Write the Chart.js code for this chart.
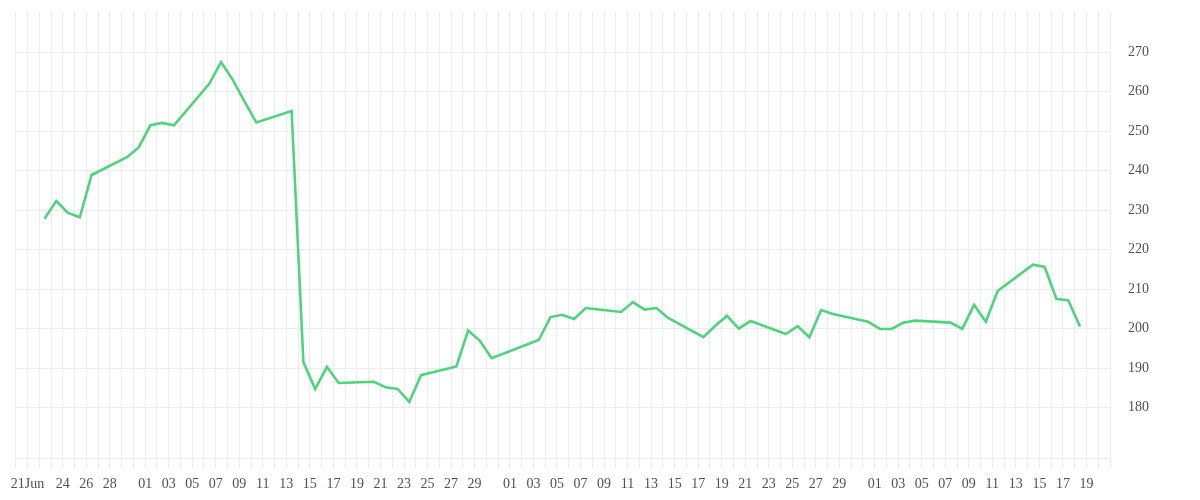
<!DOCTYPE html>
<html>
<head>
<meta charset="utf-8">
<script src="https://cdn.jsdelivr.net/npm/chart.js@4/dist/chart.umd.min.js"></script>
<style>
  html, body { margin: 0; padding: 0; background: #fff; }
  #wrap { width: 1200px; height: 500px; }
</style>
</head>
<body>
<div id="wrap"><canvas id="myChart" width="1200" height="500"></canvas></div>
<script>
// trading days (2020) and closing values
var dates = [
  '2020-06-22', '2020-06-23', '2020-06-24', '2020-06-25', '2020-06-26',
  '2020-06-29', '2020-06-30', '2020-07-01', '2020-07-02', '2020-07-03',
  '2020-07-06', '2020-07-07', '2020-07-08', '2020-07-09', '2020-07-10',
  '2020-07-13', '2020-07-14', '2020-07-15', '2020-07-16', '2020-07-17',
  '2020-07-20', '2020-07-21', '2020-07-22', '2020-07-23', '2020-07-24',
  '2020-07-27', '2020-07-28', '2020-07-29', '2020-07-30',
  '2020-08-03', '2020-08-04', '2020-08-05', '2020-08-06', '2020-08-07',
  '2020-08-10', '2020-08-11', '2020-08-12', '2020-08-13', '2020-08-14',
  '2020-08-17', '2020-08-18', '2020-08-19', '2020-08-20', '2020-08-21',
  '2020-08-24', '2020-08-25', '2020-08-26', '2020-08-27', '2020-08-28',
  '2020-08-31', '2020-09-01', '2020-09-02', '2020-09-03', '2020-09-04',
  '2020-09-07', '2020-09-08', '2020-09-09', '2020-09-10', '2020-09-11',
  '2020-09-14', '2020-09-15', '2020-09-16', '2020-09-17', '2020-09-18'
];
var prices = [
  227.8, 232.3, 229.3, 228.2, 238.9,
  243.4, 245.9, 251.5, 252.1, 251.5,
  262.0, 267.5, 263.0, 257.5, 252.2,
  255.1, 191.5, 184.7, 190.3, 186.2,
  186.5, 185.1, 184.7, 181.4, 188.2,
  190.4, 199.5, 196.9, 192.5,
  197.1, 202.9, 203.5, 202.4, 205.2,
  204.2, 206.7, 204.8, 205.2, 202.7,
  197.8, 200.7, 203.2, 200.0, 201.9,
  198.6, 200.6, 197.8, 204.7, 203.7,
  201.7, 199.9, 199.9, 201.5, 202.0,
  201.5, 199.9, 206.0, 201.7, 209.5,
  216.2, 215.6, 207.5, 207.2, 200.5
];

var xTickDates = [
  '2020-06-21', '2020-06-24', '2020-06-26', '2020-06-28',
  '2020-07-01', '2020-07-03', '2020-07-05', '2020-07-07', '2020-07-09', '2020-07-11', '2020-07-13', '2020-07-15',
  '2020-07-17', '2020-07-19', '2020-07-21', '2020-07-23', '2020-07-25', '2020-07-27', '2020-07-29',
  '2020-08-01', '2020-08-03', '2020-08-05', '2020-08-07', '2020-08-09', '2020-08-11', '2020-08-13', '2020-08-15',
  '2020-08-17', '2020-08-19', '2020-08-21', '2020-08-23', '2020-08-25', '2020-08-27', '2020-08-29',
  '2020-09-01', '2020-09-03', '2020-09-05', '2020-09-07', '2020-09-09', '2020-09-11', '2020-09-13', '2020-09-15',
  '2020-09-17', '2020-09-19'
];
var xTickLabels = [
  '21Jun', '24', '26', '28',
  '01', '03', '05', '07', '09', '11', '13', '15', '17', '19', '21', '23', '25', '27', '29',
  '01', '03', '05', '07', '09', '11', '13', '15', '17', '19', '21', '23', '25', '27', '29',
  '01', '03', '05', '07', '09', '11', '13', '15', '17', '19'
];
var yTicks = [180, 190, 200, 210, 220, 230, 240, 250, 260, 270];

var startDay = '2020-06-20';
var endDay = '2020-09-21';
var dayShift = 0.45; // points sit a bit after midnight

function dayNum(s) {
  return Math.round((Date.parse(s + 'T00:00:00Z') - Date.parse(startDay + 'T00:00:00Z')) / 86400000);
}

var points = [];
for (var i = 0; i < dates.length; i++) {
  points.push({ x: dayNum(dates[i]) + dayShift, y: prices[i] });
}

var labelByDay = {};
for (i = 0; i < xTickDates.length; i++) {
  labelByDay[dayNum(xTickDates[i])] = xTickLabels[i];
}
var lastDay = dayNum(endDay);

var gridColor = '#ececec';
var textColor = '#505050';

var ctx = document.getElementById('myChart');
var myChart = new Chart(ctx, {
  type: 'line',
  data: {
    datasets: [{
      data: points,
      borderColor: '#4fd47e',
      borderWidth: 2.6,
      pointRadius: 0,
      tension: 0,
      fill: false
    }]
  },
  options: {
    responsive: false,
    animation: false,
    layout: { padding: { top: 12, left: 15.7, right: 0, bottom: 0 } },
    plugins: { legend: { display: false }, tooltip: { enabled: false } },
    scales: {
      x: {
        type: 'linear',
        min: 0,
        max: lastDay,
        afterBuildTicks: function (scale) {
          var t = [];
          for (var d = 0; d <= lastDay; d++) t.push({ value: d });
          scale.ticks = t;
        },
        afterFit: function (scale) { scale.height = 42; },
        grid: { color: gridColor, lineWidth: 1, drawTicks: true, tickLength: 10 },
        border: { display: true, color: gridColor },
        ticks: {
          autoSkip: false,
          maxRotation: 0,
          minRotation: 0,
          padding: 8,
          color: textColor,
          font: { family: 'Liberation Serif', size: 14 },
          callback: function (v) { return labelByDay[v] || ''; }
        }
      },
      y: {
        position: 'right',
        min: 167.2,
        max: 280.2,
        afterBuildTicks: function (scale) {
          scale.ticks = yTicks.map(function (v) { return { value: v }; });
        },
        afterFit: function (scale) {
          scale.width = 90;
          // label padding should not push the plot area down
          scale.paddingTop = 0;
          scale.paddingBottom = 0;
        },
        grid: { color: gridColor, lineWidth: 1, drawTicks: false },
        border: { display: true, color: gridColor },
        ticks: {
          padding: 18,
          color: textColor,
          font: { family: 'Liberation Serif', size: 14 },
          callback: function (v) { return String(v); }
        }
      }
    }
  }
});
</script>
</body>
</html>
